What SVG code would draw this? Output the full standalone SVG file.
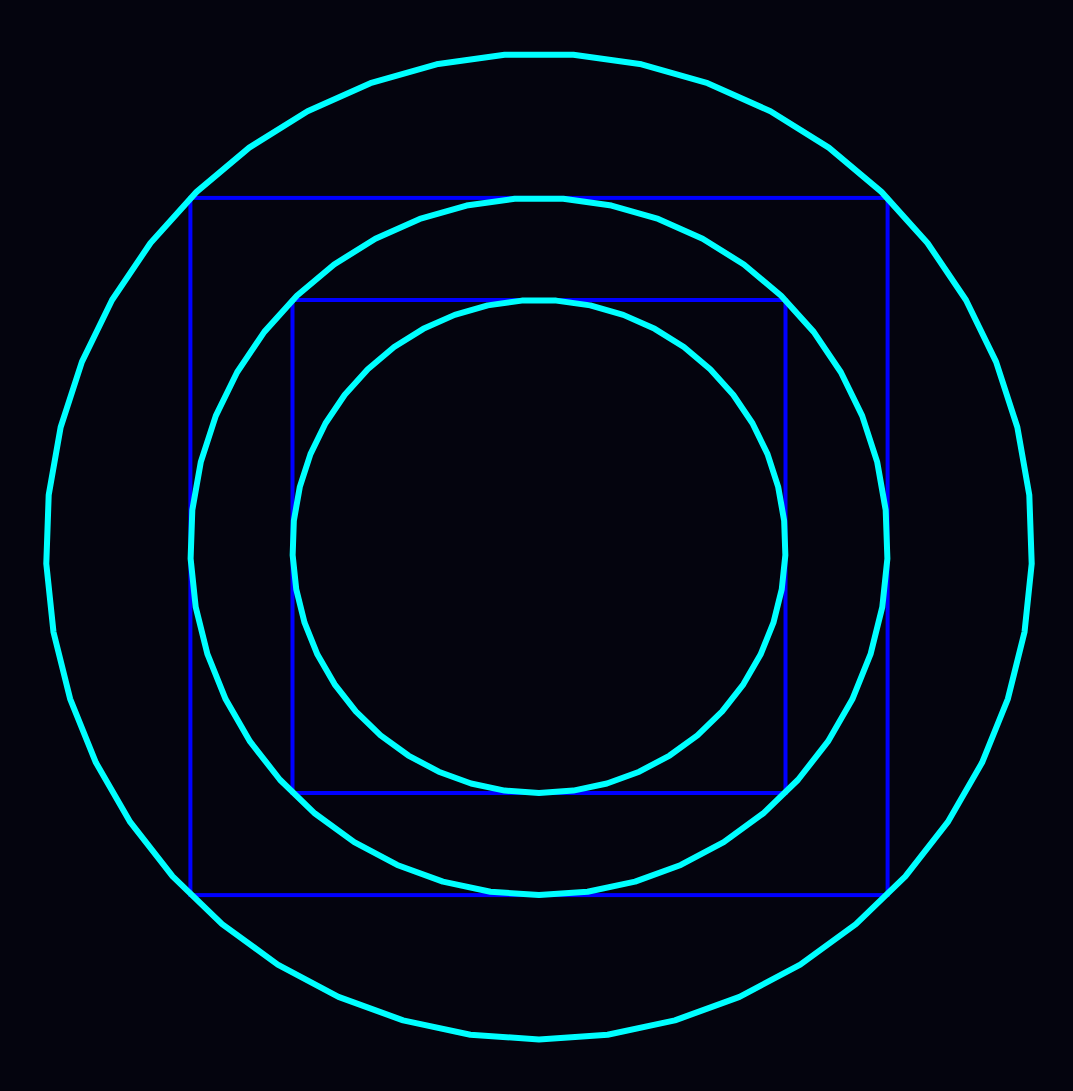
<svg xmlns="http://www.w3.org/2000/svg" xmlns:xlink="http://www.w3.org/1999/xlink" width="1073" height="1091" viewBox="0 0 1073 1091">
  <style>
    .sq { fill: none; stroke: #0000ff; stroke-width: 4; }
    .ring { fill: none; stroke: #00ffff; stroke-linejoin: round; }
  </style>
  <defs>
    <polygon id="poly45" points="6.976,-99.756 20.791,-97.815 34.202,-93.969 46.947,-88.295 58.779,-80.902 69.466,-71.934 78.801,-61.566 86.603,-50 92.718,-37.461 97.030,-24.192 99.452,-10.453 99.939,3.490 98.481,17.365 95.106,30.902 89.879,43.837 82.904,55.919 74.314,66.913 64.279,76.604 52.992,84.805 40.674,91.355 27.564,96.126 13.917,99.027 0,100 -13.917,99.027 -27.564,96.126 -40.674,91.355 -52.992,84.805 -64.279,76.604 -74.314,66.913 -82.904,55.919 -89.879,43.837 -95.106,30.902 -98.481,17.365 -99.939,3.490 -99.452,-10.453 -97.030,-24.192 -92.718,-37.461 -86.603,-50 -78.801,-61.566 -69.466,-71.934 -58.779,-80.902 -46.947,-88.295 -34.202,-93.969 -20.791,-97.815 -6.976,-99.756"/>
  </defs>
  <rect x="0" y="0" width="1073" height="1091" fill="#04040e"/>
  <g id="squares">
    <rect class="sq" x="190.4" y="197.9" width="697.2" height="697.2"/>
    <rect class="sq" x="292.5" y="300" width="493" height="493"/>
  </g>
  <g id="circles">
    <use xlink:href="#poly45" class="ring" transform="translate(539,546.5) scale(4.93)" stroke-width="1.22"/>
    <use xlink:href="#poly45" class="ring" transform="translate(539,546.5) scale(3.486)" stroke-width="1.72"/>
    <use xlink:href="#poly45" class="ring" transform="translate(539,546.5) scale(2.465)" stroke-width="2.43"/>
  </g>
</svg>
